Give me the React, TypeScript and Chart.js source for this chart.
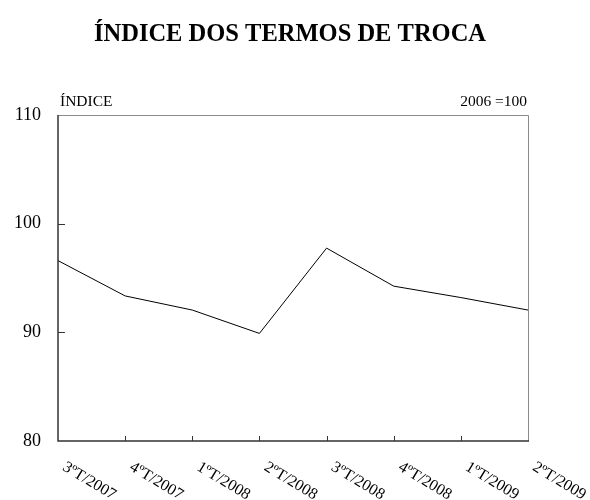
import React, { useEffect, useRef } from "react";
import { Chart, registerables } from "chart.js";

Chart.register(...registerables);

const TITLE = "ÍNDICE DOS TERMOS DE TROCA";
const LEFT_NOTE = "ÍNDICE";
const RIGHT_NOTE = "2006 =100";
const categories = ["3ºT/2007", "4ºT/2007", "1ºT/2008", "2ºT/2008", "3ºT/2008", "4ºT/2008", "1ºT/2009", "2ºT/2009"];
const indexValues = [96.6, 93.35, 92.05, 89.9, 97.75, 94.25, 93.2, 92.05];
const yTicks = [80, 90, 100, 110];

const FONT = "'Liberation Serif', 'Times New Roman', serif";

const decorPlugin = {
  id: "decor",
  afterDraw(chart: any) {
    const { ctx, chartArea } = chart;
    const { left, right, top, bottom } = chartArea;
    const xs = chart.scales.x;
    const ys = chart.scales.y;
    ctx.save();
    // frame
    ctx.strokeStyle = "#8a8a8a";
    ctx.lineWidth = 1;
    ctx.beginPath();
    ctx.moveTo(left, top + 0.5);
    ctx.lineTo(right + 0.5, top + 0.5);
    ctx.lineTo(right + 0.5, bottom);
    ctx.stroke();
    ctx.strokeStyle = "#333";
    ctx.lineWidth = 1.5;
    ctx.beginPath();
    ctx.moveTo(left, top);
    ctx.lineTo(left, bottom);
    ctx.lineTo(right + 1, bottom);
    ctx.stroke();
    // y inner ticks
    ctx.lineWidth = 1;
    ctx.beginPath();
    yTicks.forEach((v) => {
      if (v === ys.min || v === ys.max) return;
      const y = Math.round(ys.getPixelForValue(v)) + 0.5;
      ctx.moveTo(left, y);
      ctx.lineTo(left + 7, y);
    });
    // x inner ticks
    categories.forEach((_, i) => {
      if (i === 0 || i === categories.length - 1) return;
      const x = Math.round(xs.getPixelForValue(i)) + 0.5;
      ctx.moveTo(x, bottom);
      ctx.lineTo(x, bottom - 5);
    });
    ctx.stroke();
    // x labels rotated
    ctx.fillStyle = "#000";
    ctx.font = `16px ${FONT}`;
    ctx.textAlign = "left";
    ctx.textBaseline = "top";
    categories.forEach((lab, i) => {
      const x = xs.getPixelForValue(i);
      ctx.save();
      ctx.translate(x + 10, bottom + 18);
      ctx.rotate((31 * Math.PI) / 180);
      ctx.fillText(lab, 0, 0);
      ctx.restore();
    });
    // title and notes
    ctx.font = `bold 24.5px ${FONT}`;
    ctx.textAlign = "center";
    ctx.textBaseline = "alphabetic";
    ctx.fillText(TITLE, 290, 41);
    ctx.font = `15.5px ${FONT}`;
    ctx.textAlign = "left";
    ctx.fillText(LEFT_NOTE, left + 2, 106);
    ctx.textAlign = "right";
    ctx.fillText(RIGHT_NOTE, right - 1, 106);
    ctx.restore();
  },
};

export default function App() {
  const ref = useRef<HTMLCanvasElement>(null);
  useEffect(() => {
    document.body.style.margin = "0";
    const chart = new Chart(ref.current!, {
      type: "line",
      data: {
        labels: categories,
        datasets: [
          {
            data: indexValues,
            borderColor: "#000",
            borderWidth: 1,
            pointRadius: 0,
            tension: 0,
            fill: false,
          },
        ],
      },
      options: {
        animation: false,
        responsive: false,
        layout: { padding: { left: 0, right: 62, top: 115, bottom: 59 } },
        plugins: { legend: { display: false }, tooltip: { enabled: false }, title: { display: false } },
        scales: {
          x: {
            type: "category",
            offset: false,
            display: false,
          },
          y: {
            min: 80,
            max: 110,
            afterFit: (s: any) => {
              s.width = 58;
            },
            afterBuildTicks: (s: any) => {
              s.ticks = yTicks.map((v) => ({ value: v }));
            },
            grid: { display: false, drawTicks: false },
            border: { display: false },
            ticks: {
              color: "#000",
              padding: 17,
              font: { family: FONT, size: 18 },
            },
          },
        },
      },
      plugins: [decorPlugin],
    });
    return () => chart.destroy();
  }, []);
  return (
    <div style={{ width: 590, height: 500 }}>
      <canvas ref={ref} width={590} height={500} style={{ width: 590, height: 500, display: "block" }} />
    </div>
  );
}
